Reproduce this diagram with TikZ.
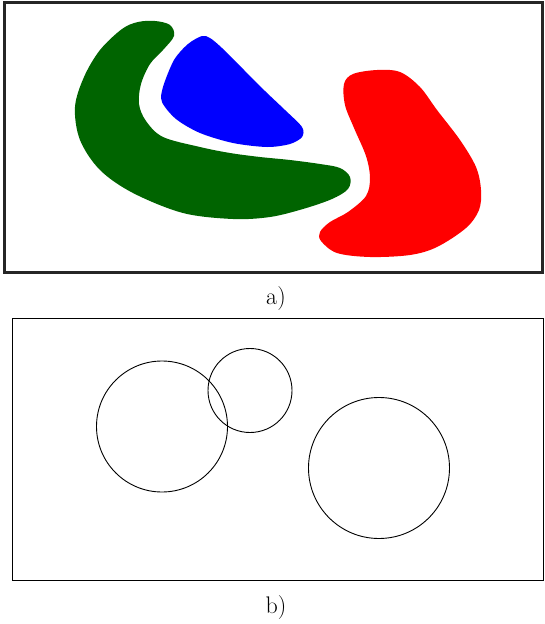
\documentclass[tikz,border=0pt]{standalone}
\usetikzlibrary{calc}
\definecolor{dgreen}{RGB}{0,100,0}
\begin{document}
\begin{tikzpicture}[x=1pt,y=-1pt,
  blob/.style={draw=none},
  ring/.style={draw=black,line width=0.9pt},
  lbl/.style={inner sep=0pt,font=\fontsize{24}{29}\selectfont}]
\useasboundingbox (0,0) rectangle (545,624);
% panel a frame
\draw[line width=2.4pt,black!85] (4.5,2.5) rectangle (542.5,272.5);
% green crescent
\fill[dgreen,blob] plot[smooth cycle,tension=0.55] coordinates{
 (174,36) (170,25) (155,21) (138,22) (122,29) (100,50) (84,77) (75,107) (80,140)
 (100,170) (133,193) (183,213) (233,219) (270,217) (303,209) (332,199) (348,189)
 (350,177) (340,168) (320,164) (290,160) (260,157) (230,153) (200,147) (163,137) (146,121)
 (139,104) (141,84) (150,64) (163,50)};
% blue blob
\fill[blue,blob] plot[smooth cycle,tension=0.5] coordinates{
 (202,36) (188,44) (174,60) (163,87) (162,102) (176,119) (200,133) (233,143)
 (267,147) (290,144) (302,137) (302,127) (285,110) (265,91) (244,70) (222,48) (210,38)};
% red blob
\fill[red,blob] plot[smooth cycle,tension=0.55] coordinates{
 (344,84) (353,74) (377,70) (400,72) (420,87) (437,110) (460,140) (476,167) (481,190)
 (479,210) (466,228) (437,247) (410,255) (370,257) (337,253) (321,241) (320,232)
 (330,222) (348,212) (366,196) (370,178) (366,156) (354,128) (345,105)};
\node[lbl] (la) at (276,299) {a)};
% panel b
\draw[line width=0.9pt] (12,318) rectangle (543.5,580);
\node[ring,circle,minimum size=131pt,inner sep=0pt] (c1) at (162,426.5) {};
\node[ring,circle,minimum size=84pt,inner sep=0pt] (c2) at (250,390.5) {};
\node[ring,circle,minimum size=141pt,inner sep=0pt] (c3) at (379,468) {};
\node[lbl] (lb) at (276,607.5) {b)};
\end{tikzpicture}
\end{document}
